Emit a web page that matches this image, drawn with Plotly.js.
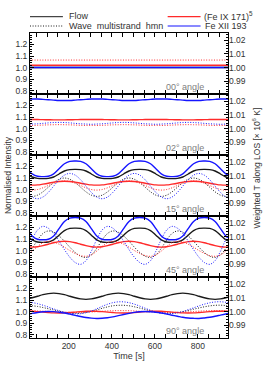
<!DOCTYPE html>
<html><head><meta charset="utf-8">
<script src="https://cdn.plot.ly/plotly-3.0.1.min.js"></script>
<style>html,body{margin:0;padding:0;background:#fff}#c{width:266px;height:372px}</style>
</head><body><div id="c"></div>
<script>
// time grid [s]
const T = [5,30,55,80,105,130,155,180,205,230,255,280,305,330,355,380,405,430,455,480,505,530,555,580,605,630,655,680,705,730,755,780,805,830,855,880,905,930,955];
const TF = [5,955];
const angleLabels = ['00° angle','02° angle','15° angle','45° angle','90° angle'];
const xTicks = [200,400,600,800];
const yTicksL = [0.8,0.9,1.0,1.1,1.2];
const yTicksR = [0.99,1.00,1.01,1.02];

// Panel 1 (00°)
const p1BlackSolid = [1.0,1.0];
const p1RedSolid = [1.02,1.02];
const p1RedDot = [1.065,1.065];
const p1BlueDot = [1.0,1.0];
const p1BlueSolid = [1.0,1.0];

// Panel 2 (02°)
const p2RedSolid = [1.078,1.079,1.078,1.077,1.076,1.075,1.075,1.075,1.076,1.077,1.078,1.079,1.078,1.079,1.078,1.077,1.076,1.075,1.075,1.075,1.076,1.077,1.078,1.079,1.078,1.079,1.078,1.077,1.076,1.075,1.075,1.075,1.076,1.077,1.078,1.079,1.078,1.079,1.078];
const p2RedDot = [1.028,1.027,1.028,1.03,1.032,1.033,1.034,1.033,1.032,1.03,1.028,1.027,1.028,1.027,1.028,1.03,1.032,1.033,1.034,1.033,1.032,1.03,1.028,1.027,1.028,1.027,1.028,1.03,1.032,1.033,1.034,1.033,1.032,1.03,1.028,1.027,1.028,1.027,1.028];
const p2BlueDot = [1.037,1.039,1.041,1.045,1.049,1.052,1.053,1.052,1.049,1.045,1.041,1.039,1.037,1.039,1.041,1.045,1.049,1.052,1.053,1.052,1.049,1.045,1.041,1.039,1.037,1.039,1.041,1.045,1.049,1.052,1.053,1.052,1.049,1.045,1.041,1.039,1.037,1.039,1.041];
const p2BlueSolid = [1.256,1.257,1.256,1.253,1.25,1.247,1.244,1.243,1.244,1.247,1.25,1.253,1.256,1.257,1.256,1.253,1.25,1.247,1.244,1.243,1.244,1.247,1.25,1.253,1.256,1.257,1.256,1.253,1.25,1.247,1.244,1.243,1.244,1.247,1.25,1.253,1.256,1.257,1.256];

// Panel 3 (15°)
const p3BlackDot = [0.951,0.94,0.951,0.98,1.02,1.06,1.089,1.10,1.089,1.06,1.02,0.98,0.951,0.94,0.951,0.98,1.02,1.06,1.089,1.10,1.089,1.06,1.02,0.98,0.951,0.94,0.951,0.98,1.02,1.06,1.089,1.10,1.089,1.06,1.02,0.98,0.951,0.94,0.951];
const p3BlackSolid = [1.135,1.109,1.097,1.095,1.097,1.109,1.135,1.161,1.173,1.175,1.173,1.161,1.135,1.109,1.097,1.095,1.097,1.109,1.135,1.161,1.173,1.175,1.173,1.161,1.135,1.109,1.097,1.095,1.097,1.109,1.135,1.161,1.173,1.175,1.173,1.161,1.135,1.109,1.097];
const p3RedDot = [1.0,0.995,1.0,1.015,1.035,1.055,1.07,1.075,1.07,1.055,1.035,1.015,1.0,0.995,1.0,1.015,1.035,1.055,1.07,1.075,1.07,1.055,1.035,1.015,1.0,0.995,1.0,1.015,1.035,1.055,1.07,1.075,1.07,1.055,1.035,1.015,1.0,0.995,1.0];
const p3RedSolid = [1.040,1.038,1.040,1.047,1.055,1.064,1.070,1.072,1.070,1.064,1.055,1.047,1.040,1.038,1.040,1.047,1.055,1.064,1.070,1.072,1.070,1.064,1.055,1.047,1.040,1.038,1.040,1.047,1.055,1.064,1.070,1.072,1.070,1.064,1.055,1.047,1.040,1.038,1.040];
const p3BlueDot = [0.975,0.935,0.92,0.935,0.975,1.03,1.085,1.125,1.14,1.125,1.085,1.03,0.975,0.935,0.92,0.935,0.975,1.03,1.085,1.125,1.14,1.125,1.085,1.03,0.975,0.935,0.92,0.935,0.975,1.03,1.085,1.125,1.14,1.125,1.085,1.03,0.975,0.935,0.92];
const p3BlueSolid = [1.18,1.136,1.115,1.112,1.115,1.136,1.18,1.224,1.245,1.248,1.245,1.224,1.18,1.136,1.115,1.112,1.115,1.136,1.18,1.224,1.245,1.248,1.245,1.224,1.18,1.136,1.115,1.112,1.115,1.136,1.18,1.224,1.245,1.248,1.245,1.224,1.18,1.136,1.115];

// Panel 4 (45°)
const p4BlackDot = [0.962,1.019,1.091,1.148,1.17,1.159,1.127,1.081,1.029,0.983,0.951,0.94,0.962,1.019,1.091,1.148,1.17,1.159,1.127,1.081,1.029,0.983,0.951,0.94,0.962,1.019,1.091,1.148,1.17,1.159,1.127,1.081,1.029,0.983,0.951,0.94,0.962,1.019,1.091];
const p4BlackSolid = [1.133,1.093,1.074,1.071,1.074,1.093,1.133,1.173,1.192,1.195,1.192,1.173,1.133,1.093,1.074,1.071,1.074,1.093,1.133,1.173,1.192,1.195,1.192,1.173,1.133,1.093,1.074,1.071,1.074,1.093,1.133,1.173,1.192,1.195,1.192,1.173,1.133,1.093,1.074];
const p4RedDot = [0.962,0.995,1.035,1.068,1.08,1.074,1.055,1.029,1.0,0.975,0.956,0.95,0.962,0.995,1.035,1.068,1.08,1.074,1.055,1.029,1.0,0.975,0.956,0.95,0.962,0.995,1.035,1.068,1.08,1.074,1.055,1.029,1.0,0.975,0.956,0.95,0.962,0.995,1.035];
const p4RedSolid = [1.033,1.03,1.033,1.043,1.055,1.068,1.077,1.08,1.077,1.068,1.055,1.043,1.033,1.03,1.033,1.043,1.055,1.068,1.077,1.08,1.077,1.068,1.055,1.043,1.033,1.03,1.033,1.043,1.055,1.068,1.077,1.08,1.077,1.068,1.055,1.043,1.033,1.03,1.033];
const p4BlueDot = [0.994,1.096,1.178,1.21,1.194,1.148,1.082,1.008,0.942,0.896,0.88,0.912,0.994,1.096,1.178,1.21,1.194,1.148,1.082,1.008,0.942,0.896,0.88,0.912,0.994,1.096,1.178,1.21,1.194,1.148,1.082,1.008,0.942,0.896,0.88,0.912,0.994,1.096,1.178];
const p4BlueSolid = [1.19,1.127,1.098,1.093,1.098,1.127,1.19,1.253,1.282,1.287,1.282,1.253,1.19,1.127,1.098,1.093,1.098,1.127,1.19,1.253,1.282,1.287,1.282,1.253,1.19,1.127,1.098,1.093,1.098,1.127,1.19,1.253,1.282,1.287,1.282,1.253,1.19,1.127,1.098];

// Panel 5 (90°)
const p5BlackDot = [1.054,1.05,1.044,1.035,1.024,1.014,1.003,0.994,0.988,0.985,0.986,0.992,1.002,1.014,1.028,1.04,1.05,1.054,1.054,1.05,1.041,1.03,1.018,1.006,0.995,0.988,0.985,0.986,0.991,0.998,1.009,1.02,1.031,1.041,1.049,1.054,1.055,1.052,1.045];
const p5BlackSolid = [1.11,1.12,1.133,1.147,1.156,1.16,1.156,1.147,1.133,1.12,1.11,1.106,1.11,1.12,1.133,1.147,1.156,1.16,1.156,1.147,1.133,1.12,1.11,1.106,1.11,1.12,1.133,1.147,1.156,1.16,1.156,1.147,1.133,1.12,1.11,1.106,1.11,1.12,1.133];
const p5RedDot = [1.008,1.007,1.005,1.003,1.001,0.999,0.996,0.994,0.993,0.992,0.992,0.994,0.996,0.999,1.002,1.005,1.007,1.008,1.008,1.007,1.005,1.002,0.999,0.997,0.994,0.993,0.992,0.992,0.993,0.995,0.997,1.0,1.003,1.005,1.007,1.008,1.008,1.007,1.006];
const p5RedSolid = [1.003,1.002,0.999,0.995,0.991,0.988,0.987,0.988,0.991,0.995,0.999,1.002,1.003,1.002,0.999,0.995,0.991,0.988,0.987,0.988,0.991,0.995,0.999,1.002,1.003,1.002,0.999,0.995,0.991,0.988,0.987,0.988,0.991,0.995,0.999,1.002,1.003,1.002,0.999];
const p5BlueDot = [1.084,1.078,1.068,1.055,1.039,1.023,1.007,0.994,0.985,0.98,0.981,0.99,1.005,1.024,1.045,1.063,1.077,1.084,1.084,1.077,1.064,1.047,1.029,1.011,0.995,0.985,0.98,0.982,0.989,1.0,1.016,1.032,1.049,1.064,1.076,1.083,1.085,1.08,1.07];
const p5BlueSolid = [0.974,0.984,0.992,0.998,1.0,0.999,0.994,0.987,0.977,0.967,0.957,0.948,0.943,0.94,0.941,0.946,0.954,0.964,0.974,0.984,0.993,0.998,1.0,0.998,0.994,0.987,0.978,0.968,0.959,0.95,0.944,0.941,0.94,0.944,0.95,0.959,0.969,0.979,0.988];

const BLACK = '#1a1a1a', RED = '#ff2a2a', BLUE = '#1515ff';
const DOT = '1px,1.6px';
const panels = [
  [[TF,p1BlackSolid,BLACK,'solid'],[TF,p1RedDot,RED,DOT],[TF,p1RedSolid,RED,'solid'],[TF,p1BlueDot,BLUE,DOT],[TF,p1BlueSolid,BLUE,'solid']],
  [[T,p2RedDot,RED,DOT],[T,p2RedSolid,RED,'solid'],[T,p2BlueDot,BLUE,DOT],[T,p2BlueSolid,BLUE,'solid']],
  [[T,p3BlackDot,BLACK,DOT],[T,p3BlackSolid,BLACK,'solid'],[T,p3RedDot,RED,DOT],[T,p3RedSolid,RED,'solid'],[T,p3BlueDot,BLUE,DOT],[T,p3BlueSolid,BLUE,'solid']],
  [[T,p4BlackDot,BLACK,DOT],[T,p4BlackSolid,BLACK,'solid'],[T,p4RedDot,RED,DOT],[T,p4RedSolid,RED,'solid'],[T,p4BlueDot,BLUE,DOT],[T,p4BlueSolid,BLUE,'solid']],
  [[T,p5BlackDot,BLACK,DOT],[T,p5BlackSolid,BLACK,'solid'],[T,p5RedDot,RED,DOT],[T,p5RedSolid,RED,'solid'],[T,p5BlueDot,BLUE,DOT],[T,p5BlueSolid,BLUE,'solid']]
];

const W = 266, H = 372, L = 30, R = 228.5, TOP = 33, BOT = 338;
const px = x => (x - L) / (R - L);
const py = y => (BOT - y) / (BOT - TOP);
const FONT = 'Liberation Sans, Arial, sans-serif';
const TXT = '#333';
const yR = [0.77, 1.3];
const yRR = [1 + (yR[0] - 1) / 11.8, 1 + (yR[1] - 1) / 11.8];

const data = [];
const layout = {
  width: W, height: H, showlegend: false,
  margin: {l: L, r: W - R, t: TOP, b: H - BOT, pad: 0},
  paper_bgcolor: '#fff', plot_bgcolor: '#fff',
  font: {family: FONT, size: 8.5, color: TXT},
  annotations: [], shapes: []
};
const n = panels.length;
panels.forEach((series, i) => {
  const s = i + 1, sr = i + 1 + n;
  const xa = 'x' + (s === 1 ? '' : s), ya = 'y' + (s === 1 ? '' : s), yr = 'y' + sr;
  series.forEach(([x, y, c, d]) => data.push({
    x: x, y: y, xaxis: xa, yaxis: ya, type: 'scatter', mode: 'lines',
    line: {color: c, width: d === 'solid' ? 1.4 : 1, dash: d, shape: 'spline', smoothing: 1},
    hoverinfo: 'skip'
  }));
  data.push({x: [500], y: [1.0], xaxis: xa, yaxis: yr, type: 'scatter', mode: 'markers', marker: {opacity: 0}, hoverinfo: 'skip'});
  const d0 = 1 - (i + 1) / n, d1 = 1 - i / n;
  layout['xaxis' + (s === 1 ? '' : s)] = {
    domain: [0, 1], anchor: ya, range: [20, 940], showgrid: false, zeroline: false,
    showline: true, linecolor: '#000', linewidth: 1, mirror: 'allticks',
    ticks: 'inside', ticklen: 4, tickcolor: '#000', tickvals: xTicks,
    minor: {ticks: 'inside', ticklen: 2, dtick: 50, tick0: 0, tickcolor: '#000', showgrid: false},
    showticklabels: i === n - 1, tickfont: {size: 8.5, color: TXT},
    matches: i === 0 ? undefined : 'x',
    title: i === n - 1 ? {text: 'Time [s]', font: {size: 9, color: TXT}, standoff: 2} : undefined
  };
  layout['yaxis' + (s === 1 ? '' : s)] = {
    domain: [d0, d1], anchor: xa, range: yR, showgrid: false, zeroline: false,
    showline: true, linecolor: '#000', linewidth: 1, mirror: true,
    ticks: 'inside', ticklen: 4, tickcolor: '#000', tickvals: yTicksL,
    ticktext: yTicksL.map(v => v.toFixed(1)),
    minor: {ticks: 'inside', ticklen: 2, dtick: 0.02, tick0: 0, tickcolor: '#000', showgrid: false},
    tickfont: {size: 8.5, color: TXT}
  };
  layout['yaxis' + sr] = {
    overlaying: ya, side: 'right', anchor: xa, range: yRR, showgrid: false, zeroline: false,
    showline: false, ticks: 'inside', ticklen: 4, tickcolor: '#000', tickvals: yTicksR,
    ticktext: yTicksR.map(v => v.toFixed(2)),
    minor: {ticks: 'inside', ticklen: 2, dtick: 0.002, tick0: 0, tickcolor: '#000', showgrid: false},
    tickfont: {size: 8.5, color: TXT}
  };
  layout.annotations.push({
    xref: 'paper', yref: 'paper', x: px(185), y: d0, xanchor: 'center', yanchor: 'bottom', yshift: 0,
    text: angleLabels[i], showarrow: false, font: {size: 9, color: '#808080'}
  });
});
// legend drawn as paper shapes & text
layout.shapes.push(
  {type: 'line', xref: 'paper', yref: 'paper', x0: px(30), x1: px(63), y0: py(16.7), y1: py(16.7), line: {color: BLACK, width: 1}},
  {type: 'line', xref: 'paper', yref: 'paper', x0: px(30), x1: px(63), y0: py(26), y1: py(26), line: {color: BLACK, width: 1, dash: DOT}},
  {type: 'line', xref: 'paper', yref: 'paper', x0: px(168), x1: px(201), y0: py(16.7), y1: py(16.7), line: {color: RED, width: 1.2}},
  {type: 'line', xref: 'paper', yref: 'paper', x0: px(168), x1: px(201), y0: py(26), y1: py(26), line: {color: BLUE, width: 1.2}}
);
const lt = (x, y, t) => ({xref: 'paper', yref: 'paper', x: px(x), y: py(y), xanchor: 'left', yanchor: 'middle', text: t, showarrow: false, font: {size: 9, color: TXT}});
layout.annotations.push(
  lt(67, 16.2, 'Flow'), lt(67, 25.5, 'Wave  multistrand  hmn'),
  lt(202, 16.2, '(Fe IX 171)<sup>5</sup>'), lt(203, 25.5, 'Fe XII 193'),
  {xref: 'paper', yref: 'paper', x: px(8), y: py(175), xanchor: 'center', yanchor: 'middle', textangle: -90, text: 'Normalised Intensity', showarrow: false, font: {size: 8.5, color: TXT}},
  {xref: 'paper', yref: 'paper', x: px(257), y: py(168), xanchor: 'center', yanchor: 'middle', textangle: -90, text: 'Weighted T along LOS [× 10<sup>6</sup> K]', showarrow: false, font: {size: 8.5, color: TXT}}
);
Plotly.newPlot('c', data, layout, {staticPlot: true, displayModeBar: false});
</script></body></html>
